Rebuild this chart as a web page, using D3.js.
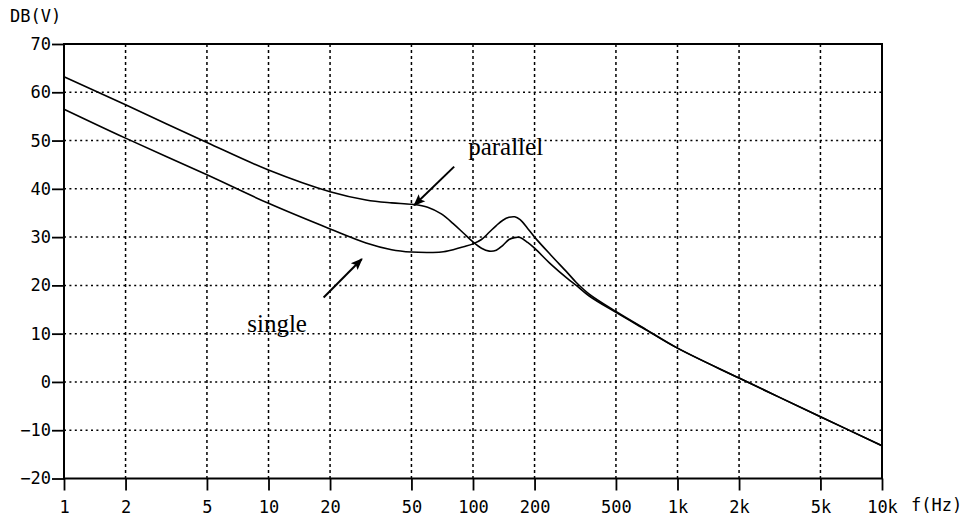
<!DOCTYPE html>
<html>
<head>
<meta charset="utf-8">
<script src="https://cdn.jsdelivr.net/npm/d3@7"></script>
<style>
  html, body { margin: 0; padding: 0; background: #fff; }
  svg { display: block; }
  .axis text, .title { font-family: "DejaVu Sans Mono", monospace; font-size: 17px; fill: #000; }
  .anno { font-family: "Liberation Serif", "Times New Roman", serif; font-size: 25px; fill: #000; }
</style>
</head>
<body>
<svg id="chart" width="967" height="521"></svg>
<script>
// ---- data ----
const freqs   = [1, 2, 5, 10, 20, 30, 40, 50, 60, 70, 80, 90, 100, 110, 120, 130, 140, 150, 160, 170, 185, 200, 240, 290, 320, 370, 500, 700, 1000, 2000, 5000, 10000];
const parallelDb = [63.2, 57.4, 49.6, 43.9, 39.4, 37.7, 37.1, 36.8, 36.2, 34.8, 32.8, 30.8, 29.0, 27.7, 27.1, 27.3, 28.3, 29.5, 29.9, 29.9, 28.9, 27.7, 24.4, 21.4, 20.0, 17.8, 14.4, 10.8, 7.0, 0.8, -7.2, -13.2];
const singleDb   = [56.5, 50.5, 42.9, 37.0, 31.7, 28.8, 27.4, 26.9, 26.8, 26.9, 27.4, 28.0, 28.6, 29.5, 31.0, 32.4, 33.5, 34.1, 34.2, 33.6, 31.8, 30.0, 26.3, 22.6, 20.6, 18.2, 14.6, 10.9, 7.0, 0.8, -7.2, -13.2];
const xTicks = [1, 2, 5, 10, 20, 50, 100, 200, 500, 1000, 2000, 5000, 10000];
const xTickLabels = ["1", "2", "5", "10", "20", "50", "100", "200", "500", "1k", "2k", "5k", "10k"];
const yTicks = [70, 60, 50, 40, 30, 20, 10, 0, -10, -20];
const yLabel = "DB(V)";
const xLabel = "f(Hz)";
// annotations: label, text anchor (freq, dB), arrow tail and tip (freq, dB)
const annoNames = ["parallel", "single"];
const annoText  = [[94.7, 47.0], [7.87, 10.4]];
const annoTail  = [[80.9, 44.6], [18.6, 17.5]];
const annoTip   = [[51.6, 36.6], [28.6, 25.45]];

const svg = d3.select("#chart");
const x = d3.scaleLog().domain([1, 10000]).range([64, 882]);
const y = d3.scaleLinear().domain([-20, 70]).range([478.5, 44]);

// grid
const grid = svg.append("g");
grid.selectAll("line.h").data(yTicks.filter(v => v > -20 && v < 70)).enter().append("line")
  .attr("x1", x(1)).attr("x2", x(10000))
  .attr("y1", d => y(d)).attr("y2", d => y(d))
  .attr("stroke", "#000").attr("stroke-width", 1.5).attr("stroke-dasharray", "2,3.4");
grid.selectAll("line.v").data(xTicks.filter(v => v > 1 && v < 10000)).enter().append("line")
  .attr("y1", y(70)).attr("y2", y(-20))
  .attr("x1", d => x(d)).attr("x2", d => x(d))
  .attr("stroke", "#000").attr("stroke-width", 1.5).attr("stroke-dasharray", "3,3");

// axes
const fmtX = d => xTickLabels[xTicks.indexOf(d)];
const xAxis = d3.axisBottom(x).tickValues(xTicks).tickFormat(fmtX).tickSize(12).tickPadding(6);
const yAxis = d3.axisLeft(y).tickValues(yTicks).tickFormat(d => d < 0 ? "\u2212" + Math.abs(d) : String(d)).tickSize(12).tickPadding(1);

const gx = svg.append("g").attr("class", "axis").attr("transform", `translate(0,${y(-20)})`).call(xAxis);
const gy = svg.append("g").attr("class", "axis").attr("transform", `translate(${x(1)},0)`).call(yAxis);
[gx, gy].forEach(g => {
  g.select(".domain").remove();
  g.selectAll(".tick line").attr("stroke", "#000").attr("stroke-width", 1.8);
  g.selectAll(".tick text").attr("font-family", null).attr("font-size", null);
});
gx.selectAll(".tick text").attr("dy", "0.95em");
gx.attr("font-family", null).attr("font-size", null);
gy.attr("font-family", null).attr("font-size", null);

// frame
svg.append("rect")
  .attr("x", x(1)).attr("y", y(70))
  .attr("width", x(10000) - x(1)).attr("height", y(-20) - y(70))
  .attr("fill", "none").attr("stroke", "#000").attr("stroke-width", 2);

// axis titles
svg.append("text").attr("class", "title").attr("x", 10).attr("y", 22).text(yLabel);
svg.append("text").attr("class", "title").attr("x", 911).attr("y", 511).text(xLabel);

// curves
const line = d3.line().x(d => x(d[0])).y(d => y(d[1])).curve(d3.curveCatmullRom.alpha(0.5));
[parallelDb, singleDb].forEach(series => {
  svg.append("path")
    .datum(freqs.map((f, i) => [f, series[i]]))
    .attr("d", line)
    .attr("fill", "none").attr("stroke", "#000").attr("stroke-width", 1.6);
});

// annotations
const defs = svg.append("defs");
defs.append("marker").attr("id", "arrow").attr("viewBox", "0 0 10 10")
  .attr("refX", 9).attr("refY", 5).attr("markerWidth", 6).attr("markerHeight", 6)
  .attr("markerUnits", "strokeWidth").attr("orient", "auto")
  .append("path").attr("d", "M0,1 L10,5 L0,9 L2,5 Z").attr("fill", "#000");

annoNames.forEach((name, i) => {
  svg.append("line")
    .attr("x1", x(annoTail[i][0])).attr("y1", y(annoTail[i][1]))
    .attr("x2", x(annoTip[i][0])).attr("y2", y(annoTip[i][1]))
    .attr("stroke", "#000").attr("stroke-width", 2).attr("marker-end", "url(#arrow)");
  svg.append("text").attr("class", "anno")
    .attr("x", x(annoText[i][0])).attr("y", y(annoText[i][1]))
    .text(name);
});
</script>
</body>
</html>
